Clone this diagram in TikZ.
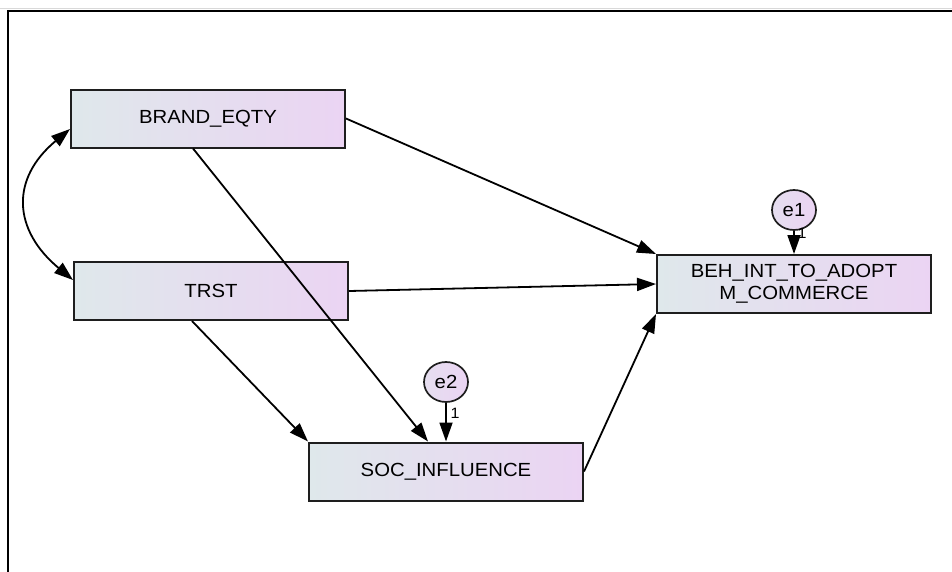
\documentclass[tikz,border=0pt]{standalone}
\usepackage{fontspec}
\newfontfamily\amos[FakeStretch=1.07]{Liberation Sans}
\usetikzlibrary{arrows.meta,shapes.geometric,calc}
\definecolor{gl}{HTML}{DFE8EB}
\definecolor{gr}{HTML}{EBD4F3}
\definecolor{bd}{HTML}{1E1E1E}
\begin{document}
\begin{tikzpicture}[x=1pt,y=-1pt,
  var/.style={draw=bd, line width=2pt, left color=gl, right color=gr,
    minimum width=274pt, minimum height=58pt, inner sep=0pt,
    font=\amos\fontsize{19}{22}\selectfont, align=center},
  err/.style={ellipse, draw=bd, line width=1.7pt, left color=gl!50!gr, right color=gr,
    minimum width=44pt, minimum height=40pt, inner sep=0pt,
    font=\amos\fontsize{19}{22}\selectfont},
  arr/.style={line width=1.8pt, -{Triangle[length=19pt,width=13pt]}},
  darr/.style={line width=1.8pt, {Triangle[length=19pt,width=13pt]}-{Triangle[length=19pt,width=13pt]}},
  lab/.style={font=\amos\fontsize{15}{15}\selectfont, inner sep=0pt}]
\useasboundingbox (0,0) rectangle (952,571);
% frame
\draw[gray!30, line width=0.6pt] (0,8.5) -- (952,8.5);
\draw[line width=2pt] (7.5,580) -- (7.5,11) -- (960,11);
% variables
\node[var] (brand) at (208,118.5) {BRAND\_EQTY};
\node[var] (trst) at (211,291) {TRST};
\node[var] (beh) at (794,284) {BEH\_INT\_TO\_ADOPT\\M\_COMMERCE};
\node[var] (soc) at (446,471.5) {SOC\_INFLUENCE};
\node[err] (e1) at (794,210) {e1};
\node[err] (e2) at (446,382) {e2};
\node[lab] (l1) at (802,233) {1};
\node[lab] (l2) at (455,413) {1};
% paths
\draw[arr] (brand.east) -- (beh.north west);
\draw[arr] (trst.east) -- (beh.west);
\draw[arr] ([xshift=-15pt]brand.south) -- ([xshift=-18pt]soc.north);
\draw[arr] ([xshift=-19pt]trst.south) -- (soc.north west);
\draw[arr] (soc.east) -- (beh.south west);
\draw[arr] (e1.south) -- (beh.north);
\draw[arr] (e2.south) -- (soc.north);
\draw[darr] ([yshift=-10.5pt]brand.west) .. controls +(-60,50) and +(-60,-50) .. ([yshift=11pt]trst.west);
\end{tikzpicture}
\end{document}
